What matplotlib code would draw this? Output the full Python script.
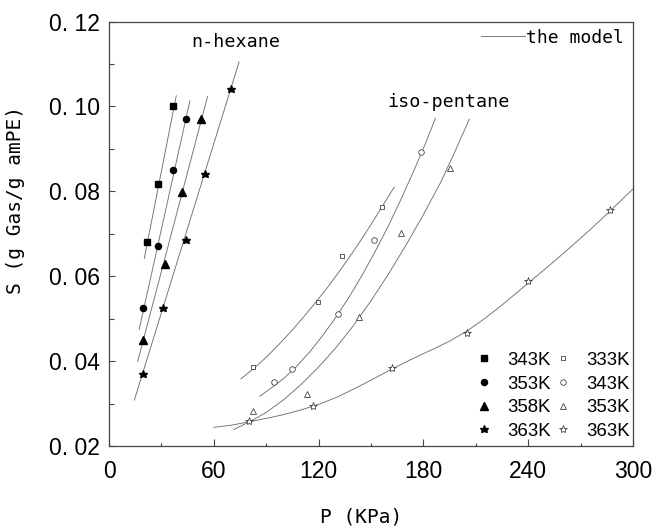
import matplotlib
matplotlib.use("Agg")
import matplotlib.pyplot as plt
from matplotlib.lines import Line2D
from matplotlib.ticker import MultipleLocator, FuncFormatter

# ---------------- data ----------------
# n-hexane sorption (filled markers)
hex_labels = ["343K", "353K", "358K", "363K"]
hex_P_343 = [21.7, 27.8, 36.7]
hex_S_343 = [0.0680, 0.0817, 0.1001]
hex_P_353 = [19.6, 27.8, 36.6, 44.0]
hex_S_353 = [0.0524, 0.0671, 0.0849, 0.0970]
hex_P_358 = [19.6, 32.0, 41.7, 52.6]
hex_S_358 = [0.0450, 0.0628, 0.0798, 0.0970]
hex_P_363 = [19.6, 30.7, 44.0, 55.0, 69.7]
hex_S_363 = [0.0370, 0.0524, 0.0685, 0.0841, 0.1040]

# n-hexane model lines
hexfit_P_343 = [20.2, 38.5]
hexfit_S_343 = [0.0642, 0.1025]
hexfit_P_353 = [17.3, 46.3]
hexfit_S_353 = [0.0475, 0.1013]
hexfit_P_358 = [16.4, 56.4]
hexfit_S_358 = [0.0399, 0.1023]
hexfit_P_363 = [14.5, 74.5]
hexfit_S_363 = [0.0308, 0.1105]

# iso-pentane sorption (open markers)
iso_labels = ["333K", "343K", "353K", "363K"]
iso_P_333 = [82.3, 119.8, 133.2, 156.1]
iso_S_333 = [0.0387, 0.0540, 0.0648, 0.0762]
iso_P_343 = [94.6, 104.9, 131.2, 152.0, 178.9]
iso_S_343 = [0.0351, 0.0381, 0.0511, 0.0685, 0.0892]
iso_P_353 = [82.3, 113.2, 143.4, 167.2, 195.0]
iso_S_353 = [0.0282, 0.0322, 0.0503, 0.0701, 0.0854]
iso_P_363 = [80.2, 117.0, 162.3, 204.9, 240.1, 286.8]
iso_S_363 = [0.0258, 0.0295, 0.0384, 0.0467, 0.0589, 0.0756]

# iso-pentane model curves
isofit_P_333 = [75.5, 83, 90, 97, 104, 111, 118, 125, 132, 139, 146, 154, 163.3]
isofit_S_333 = [0.0358, 0.0383, 0.0409, 0.0438, 0.0469, 0.0502, 0.0537, 0.0573,
                0.0612, 0.0653, 0.0696, 0.0748, 0.0810]
isofit_P_343 = [86.3, 93, 100, 107.5, 115, 122.5, 130, 137.5, 145, 152.5, 160,
                167.5, 175, 181, 186.9]
isofit_S_343 = [0.0317, 0.0337, 0.0359, 0.0388, 0.0422, 0.0461, 0.0504, 0.0551,
                0.0603, 0.0659, 0.0719, 0.0784, 0.0853, 0.0911, 0.0972]
isofit_P_353 = [71.4, 80, 90, 100, 110, 120, 130, 140, 150, 160, 170, 180, 190,
                198, 206.3]
isofit_S_353 = [0.0239, 0.0256, 0.0279, 0.0309, 0.0345, 0.0386, 0.0432, 0.0484,
                0.0542, 0.0605, 0.0673, 0.0745, 0.0822, 0.0893, 0.0970]
isofit_P_363 = [60.0, 70, 80.2, 90, 100, 110, 120, 130, 140, 150, 162.3, 175,
                185, 195, 205, 215, 225, 240.1, 252, 263, 275, 286.8, 299.8]
isofit_S_363 = [0.0244, 0.0249, 0.0257, 0.0265, 0.0274, 0.0285, 0.0298, 0.0314,
                0.0334, 0.0355, 0.0382, 0.0408, 0.0427, 0.0447, 0.0471, 0.0500,
                0.0532, 0.0584, 0.0625, 0.0664, 0.0708, 0.0753, 0.0805]

# ---------------- figure ----------------
fig = plt.figure(figsize=(6.53, 5.28), dpi=100)
ax = fig.add_axes([109 / 653, 1 - 446 / 528, 524 / 653, 424.5 / 528])

line_kw = dict(color="#707070", lw=0.65)
fill_kw = dict(ls="none", color="black", mec="black")
open_kw = dict(ls="none", color="#333333", mfc="white", mec="#333333", mew=0.55)

# model lines
for P, S in [(hexfit_P_343, hexfit_S_343), (hexfit_P_353, hexfit_S_353),
             (hexfit_P_358, hexfit_S_358), (hexfit_P_363, hexfit_S_363),
             (isofit_P_333, isofit_S_333), (isofit_P_343, isofit_S_343),
             (isofit_P_353, isofit_S_353), (isofit_P_363, isofit_S_363)]:
    ax.plot(P, S, **line_kw)

# n-hexane points
h1, = ax.plot(hex_P_343, hex_S_343, marker="s", ms=4.2, **fill_kw)
h2, = ax.plot(hex_P_353, hex_S_353, marker="o", ms=4.4, **fill_kw)
h3, = ax.plot(hex_P_358, hex_S_358, marker="^", ms=5.2, **fill_kw)
h4, = ax.plot(hex_P_363, hex_S_363, marker="*", ms=6.2, **fill_kw)

# iso-pentane points
o1, = ax.plot(iso_P_333, iso_S_333, marker="s", ms=3.5, **open_kw)
o2, = ax.plot(iso_P_343, iso_S_343, marker="o", ms=4.0, **open_kw)
o3, = ax.plot(iso_P_353, iso_S_353, marker="^", ms=4.8, **open_kw)
o4, = ax.plot(iso_P_363, iso_S_363, marker="*", ms=6.0, **open_kw)

ax.set_xlim(0, 300)
ax.set_ylim(0.02, 0.12)

ax.xaxis.set_major_locator(MultipleLocator(60))
ax.xaxis.set_minor_locator(MultipleLocator(30))
ax.yaxis.set_major_locator(MultipleLocator(0.02))
ax.yaxis.set_minor_locator(MultipleLocator(0.01))
ax.yaxis.set_major_formatter(FuncFormatter(lambda v, p: f"{v:.2f}".replace(".", ". ")))
ax.xaxis.set_major_formatter(FuncFormatter(lambda v, p: f"{v:.0f}"))

tick_font = "Liberation Sans"
ax.tick_params(which="both", direction="in", top=False, right=False,
               color="#444444", width=0.8)
ax.tick_params(axis="x", which="major", length=5, pad=10, labelsize=16.5)
ax.tick_params(axis="x", which="minor", length=2.5)
ax.tick_params(axis="y", which="major", length=4.5, pad=6.5, labelsize=16.5)
ax.tick_params(axis="y", which="minor", length=3.5)
for lab in ax.get_xticklabels() + ax.get_yticklabels():
    lab.set_family(tick_font)

for sp in ax.spines.values():
    sp.set_color("#444444")
    sp.set_linewidth(0.9)

mono = "DejaVu Sans Mono"
fig.text(16 / 653, 1 - 200 / 528, "S (g Gas/g amPE)", rotation=90,
         ha="center", va="center", family=mono, fontsize=14)
fig.text(361 / 653, 1 - 517 / 528, "P (KPa)", ha="center", va="center",
         family=mono, fontsize=14)

ax.text(47.0, 0.1152, "n-hexane", ha="left", va="center", family=mono, fontsize=13.2)
ax.text(159.5, 0.1011, "iso-pentane", ha="left", va="center", family=mono, fontsize=13.2)

# model legend (top right)
model_leg = ax.legend([Line2D([], [], **line_kw)], ["the model"],
                      loc="upper right", bbox_to_anchor=(0.982, 0.983),
                      frameon=False, borderpad=0, borderaxespad=0,
                      handlelength=2.4, handletextpad=0.05,
                      prop=dict(family=mono, size=13))
ax.add_artist(model_leg)

# temperature legend (bottom right)
ax.legend([h1, h2, h3, h4, o1, o2, o3, o4], hex_labels + iso_labels,
          ncol=2, loc="lower right", bbox_to_anchor=(0.9943, 0.015),
          frameon=False, borderpad=0, borderaxespad=0,
          handlelength=0.8, handletextpad=0.85, columnspacing=0.25,
          labelspacing=0.35, prop=dict(family=tick_font, size=13.4))

fig.savefig("out.png", dpi=100)
